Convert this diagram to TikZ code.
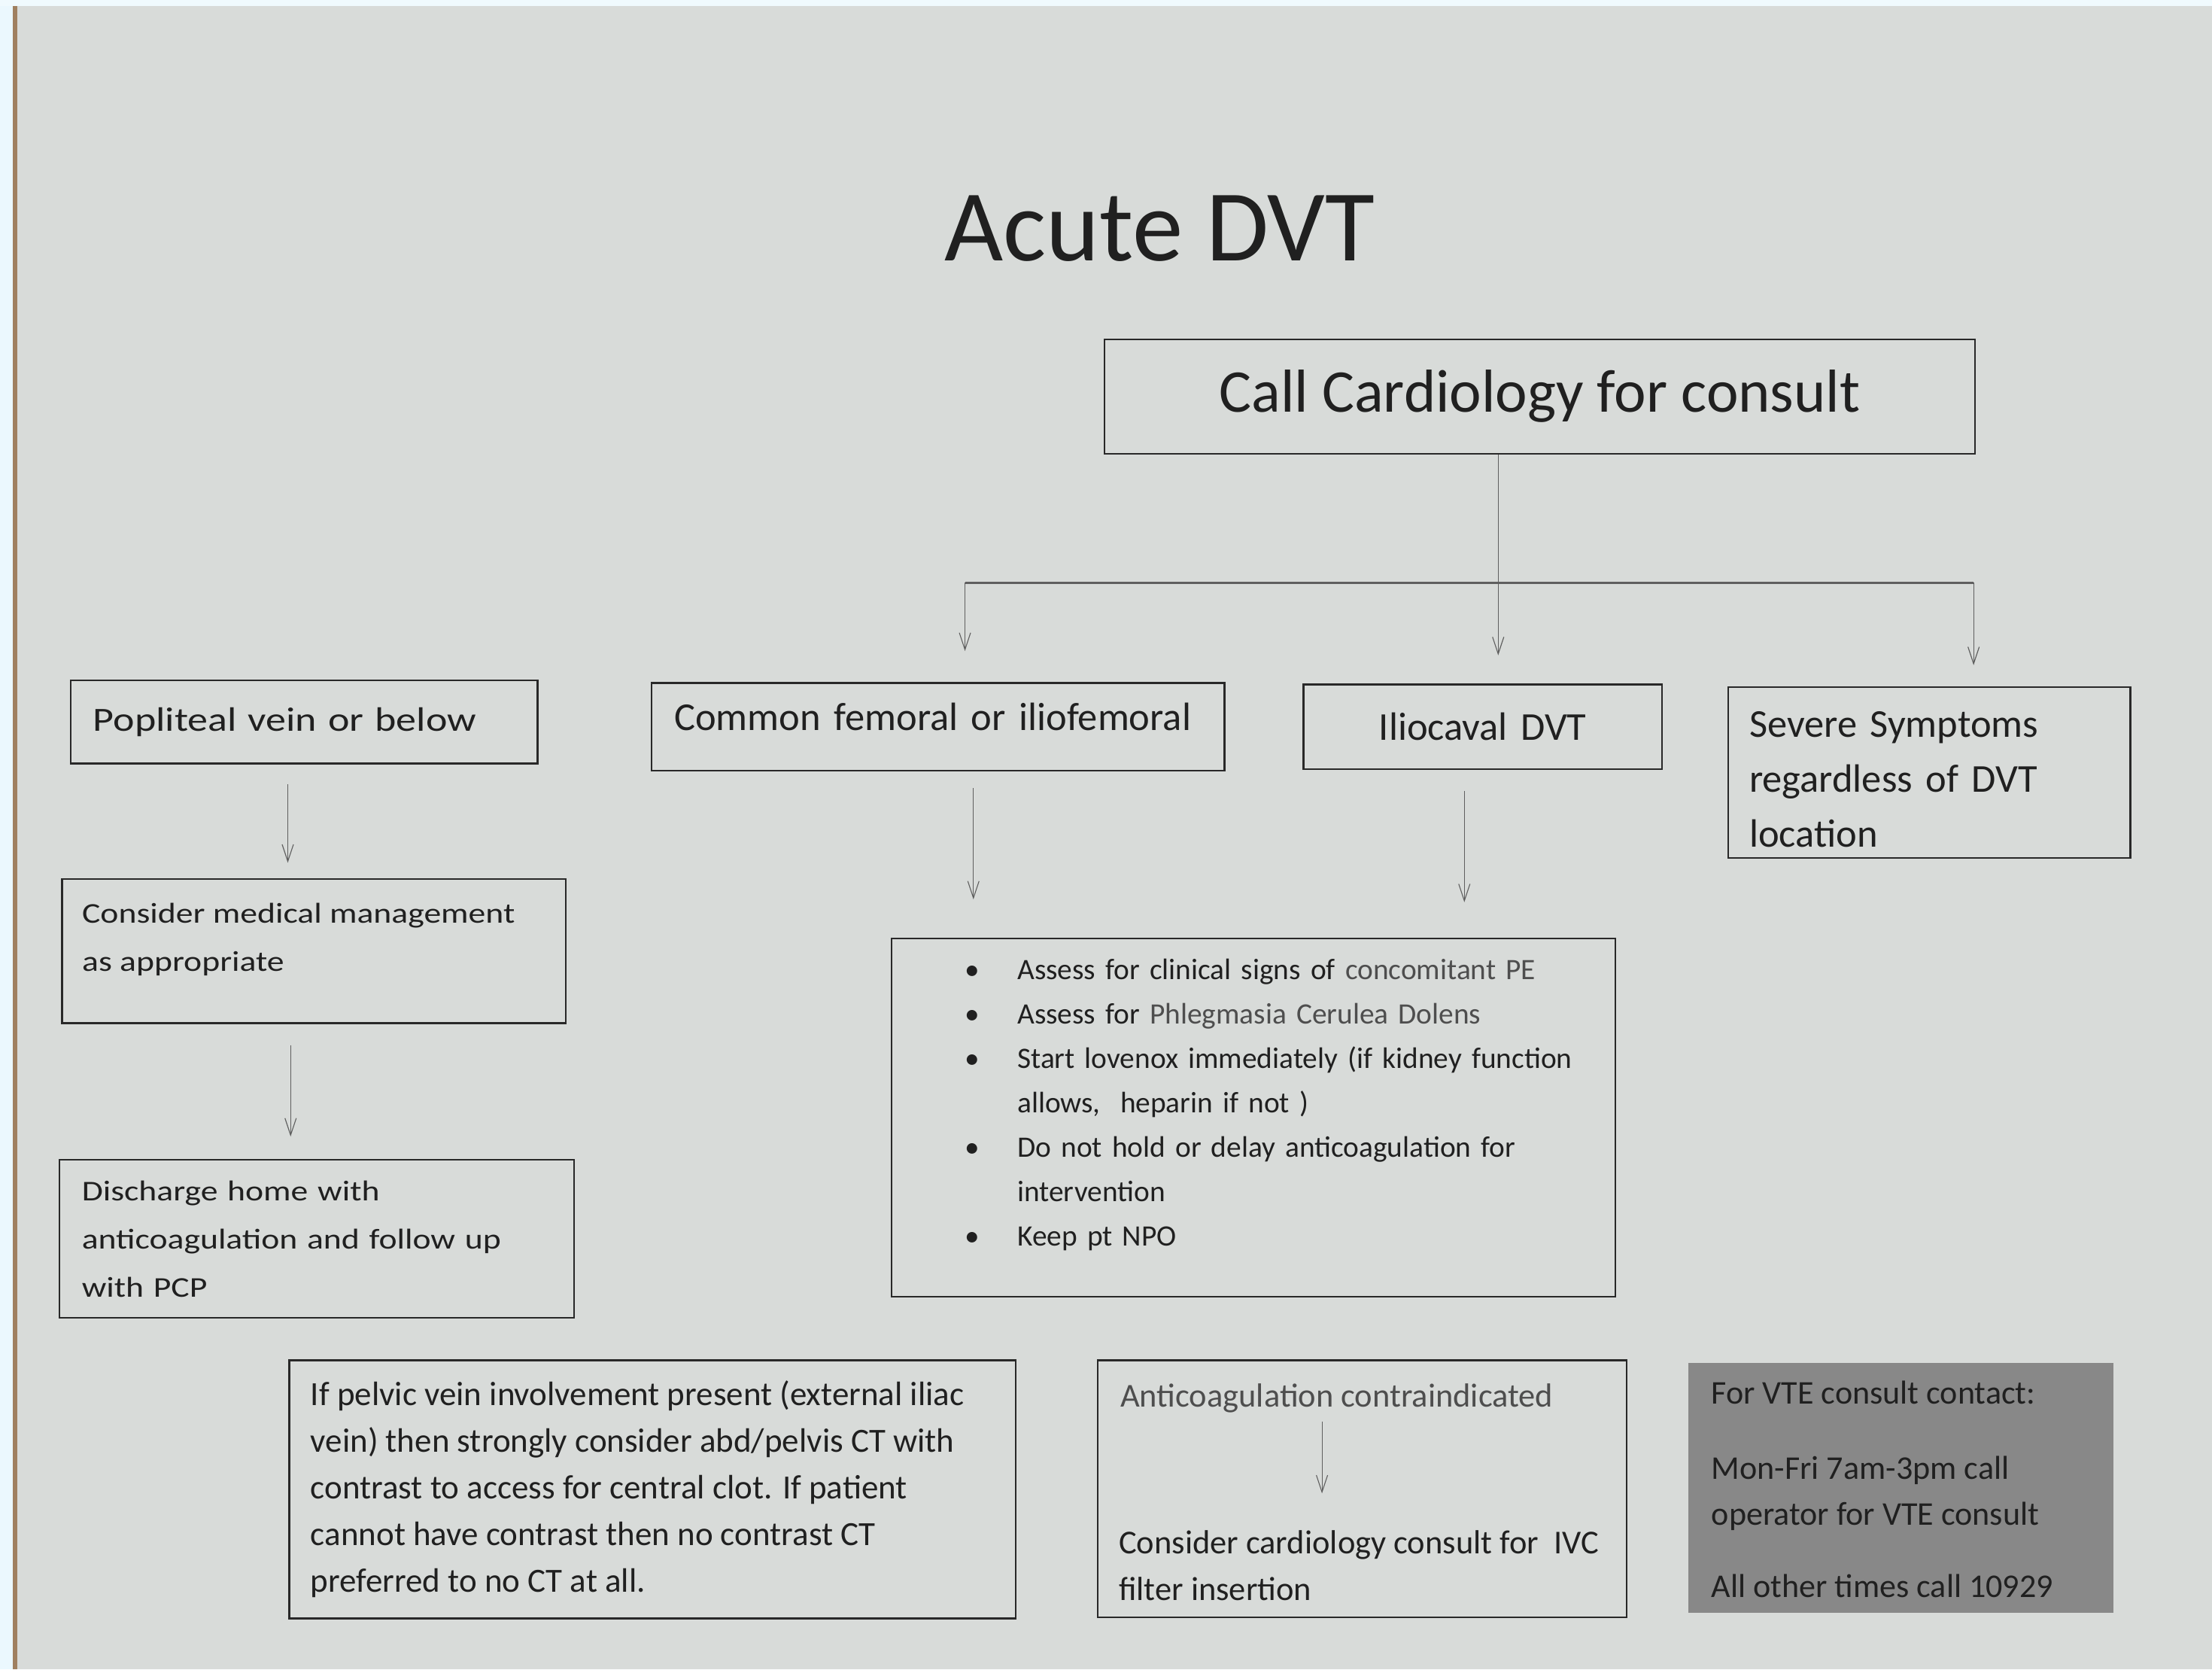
\documentclass[tikz,border=0pt]{standalone}
\usepackage{fontspec}
\setmainfont{Carlito}
\newfontfamily\wideface[FakeStretch=1.2]{Carlito}
\usepackage{xcolor}
\usetikzlibrary{arrows.meta,positioning,calc}

\definecolor{paper}{RGB}{216,219,217}
\definecolor{ink}{RGB}{32,32,32}
\definecolor{softink}{RGB}{78,78,78}
\definecolor{frame}{RGB}{40,40,40}
\definecolor{wire}{RGB}{95,95,95}
\definecolor{shade}{RGB}{136,136,136}
\definecolor{desk}{RGB}{160,128,96}

\begin{document}
\begin{tikzpicture}[
    x=1pt, y=-1pt,
    box/.style={draw=frame, line width=1.3pt, inner sep=0pt, text=ink},
    rowbox/.style={box, font=\fontsize{28}{39}\selectfont, align=left, inner xsep=16pt},
    leftbox/.style={box, font=\wideface\fontsize{20.3}{34}\selectfont, align=left, inner xsep=16pt},
    txt/.style={inner sep=0pt, anchor=base west, align=left, text=ink},
    arrow/.style={-{Straight Barb[length=12pt,width=8pt]}, draw=wire, line width=0.6pt},
    branch/.style={draw=wire, line width=1.5pt}
]
    % Paper and photo edges
    \fill[paper] (0,0) rectangle (1568,1183);
    \fill[white!94!cyan] (0,0) rectangle (1568,4);
    \fill[white!92!cyan] (0,4) rectangle (9,1183);
    \fill[desk] (9,4) rectangle (12,1183);
    \useasboundingbox (0,0) rectangle (1568,1183);

    % Title and first step
    \node[txt, anchor=base, font=\fontsize{72}{80}\selectfont] (title) at (822,185) {Acute DVT};
    \node[box, minimum width=617pt, minimum height=81pt, font=\fontsize{43}{50}\selectfont] (call) at (1091.5,281) {Call Cardiology for consult};

    % Row of DVT locations
    \node[leftbox, font=\wideface\fontsize{24}{34}\selectfont, minimum width=331pt, minimum height=59pt, text width=299pt] (pop) at (215.5,511.5) {Popliteal vein or below};
    \node[rowbox, text depth=14pt, minimum width=406pt, minimum height=62pt, text width=374pt] (cfem) at (665,515) {Common femoral or iliofemoral};
    \node[rowbox, align=center, minimum width=254pt, minimum height=60pt, text width=222pt] (ilio) at (1051,515) {Iliocaval DVT};
    \node[rowbox, inner xsep=15pt, text height=28pt, minimum width=285pt, minimum height=121pt, text width=255pt] (sev) at (1367.5,547.5) {Severe Symptoms\\regardless of DVT\\location};

    % Left column
    \node[box, minimum width=357pt, minimum height=102pt] (med) at (222.5,674) {};
    \node[txt, font=\wideface\fontsize{20.3}{34}\selectfont] (medt) at (58,688) {Consider medical management\\as appropriate};
    \node[leftbox, minimum width=365pt, minimum height=112pt, text width=333pt] (dis) at (224.5,878) {Discharge home with\\anticoagulation and follow up\\with PCP};

    % Management list
    \node[box, minimum width=513pt, minimum height=254pt] (bul) at (888.5,792) {};
    \node[txt, text width=490pt, font=\fontsize{21}{31.5}\selectfont] (bult) at (684,694) {\hyphenpenalty=10000
      \hangindent=37pt\hangafter=1\makebox[37pt][l]{\textbullet}Assess for clinical signs of {\color{softink}concomitant PE}\par
      \hangindent=37pt\hangafter=1\makebox[37pt][l]{\textbullet}Assess for {\color{softink}Phlegmasia Cerulea Dolens}\par
      \hangindent=37pt\hangafter=1\makebox[37pt][l]{\textbullet}Start lovenox immediately (if kidney function\newline allows,\ \ heparin if not )\par
      \hangindent=37pt\hangafter=1\makebox[37pt][l]{\textbullet}Do not hold or delay anticoagulation for\newline intervention\par
      \hangindent=37pt\hangafter=1\makebox[37pt][l]{\textbullet}Keep pt NPO};

    % Bottom row
    \node[box, minimum width=515pt, minimum height=183pt] (pel) at (462.5,1055.5) {};
    \node[txt, font=\fontsize{24}{33}\selectfont] (pelt) at (220,1128) {If pelvic vein involvement present (external iliac\\vein) then strongly consider abd/pelvis CT with\\contrast to access for central clot. If patient\\cannot have contrast then no contrast CT\\preferred to no CT at all.};

    \node[box, minimum width=375pt, minimum height=182pt] (anti) at (965.5,1055) {};
    \node[txt, text=softink, font=\fontsize{23.7}{33}\selectfont] (ci) at (794,997) {Anticoagulation contraindicated};
    \node[txt, font=\fontsize{23.7}{33}\selectfont] (ivc) at (793,1134) {Consider cardiology consult for\ \ IVC\\filter insertion};

    \node[fill=shade, inner sep=0pt, minimum width=301pt, minimum height=177pt] (contact) at (1347.5,1054.5) {};
    \node[txt, font=\fontsize{23.5}{33}\selectfont] (contactt) at (1213,1132) {For VTE consult contact:\\[20pt]Mon-Fri 7am-3pm call\\operator for VTE consult\\[18pt]All other times call 10929};

    % Branching from the consult
    \coordinate (split) at (1062,413);
    \coordinate (bl) at (684,413);
    \coordinate (br) at (1399,413);
    \draw[draw=wire, line width=0.6pt] (call.south -| split) -- (split);
    \draw[branch] (bl) -- (br);
    \draw[arrow, shorten >=22pt] (bl) -- (bl |- cfem.north);
    \draw[arrow, shorten >=20pt] (split) -- (split |- ilio.north);
    \draw[arrow, shorten >=15pt] (br) -- (br |- sev.north);

    % Downward arrows
    \draw[arrow, shorten <=14pt, shorten >=11pt] ([xshift=-11.5pt]pop.south) -- ([xshift=-11.5pt]pop.south |- med.north);
    \draw[arrow, shorten <=15pt, shorten >=16pt] ([xshift=-16.5pt]med.south) -- ([xshift=-16.5pt]med.south |- dis.north);
    \draw[arrow, shorten <=12pt, shorten >=27pt] ([xshift=25pt]cfem.south) -- ([xshift=25pt]cfem.south |- bul.north);
    \draw[arrow, shorten <=15pt, shorten >=25pt] ([xshift=-13pt]ilio.south) -- ([xshift=-13pt]ilio.south |- bul.north);
    \draw[arrow, shorten <=6pt, shorten >=26pt] ([xshift=-10.5pt]ci.south) -- ([xshift=-10.5pt]ci.south |- ivc.north);

\end{tikzpicture}
\end{document}
